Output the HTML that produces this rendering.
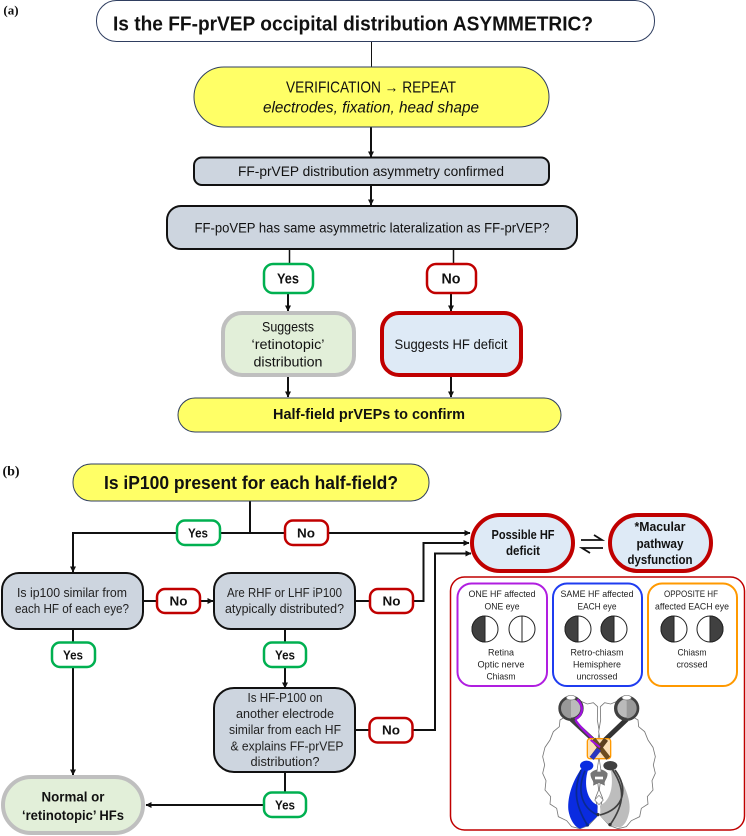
<!DOCTYPE html>
<html><head><meta charset="utf-8"><style>
html,body{margin:0;padding:0;background:#fff}
svg{display:block}
text{font-family:"Liberation Sans",sans-serif;fill:#111;text-anchor:middle;dominant-baseline:central}
.b{font-weight:bold}
.t{font-size:9.5px;fill:#222}
.m{font-size:12.5px;fill:#222}
.l{stroke:#111;stroke-width:2;fill:none}
.g{fill:#cdd5df;stroke:#111;stroke-width:2}
.y{fill:#ffff66;stroke:#2f3e60;stroke-width:1}
.ye{fill:#fff;stroke:#00b050;stroke-width:2.5}
.no{fill:#fff;stroke:#c00000;stroke-width:2.5}
.hf{fill:#deeaf6;stroke:#c00000;stroke-width:4}
.gr{fill:#e2efd9;stroke:#bfbfbf;stroke-width:4}
</style></head><body>
<svg width="746" height="836" viewBox="0 0 746 836" xmlns="http://www.w3.org/2000/svg">
<defs><marker id="a" markerWidth="7" markerHeight="7" refX="5.5" refY="3" orient="auto" markerUnits="userSpaceOnUse"><path d="M0,0L6,3L0,6Z" fill="#111"/></marker></defs>
<text x="11" y="10" class="b" style="font-family:'Liberation Serif',serif;font-size:13px">(a)</text>
<text x="11" y="472" class="b" style="font-family:'Liberation Serif',serif;font-size:14px">(b)</text>

<!-- connectors (a) -->
<path d="M371.500 41V67" stroke="#111" stroke-width="1" fill="none"/>
<path class="l" d="M371 127V157" marker-end="url(#a)"/>
<path class="l" d="M371 185V205" marker-end="url(#a)"/>
<path d="M289.500 249V263M453.500 249V263" stroke="#111" stroke-width="1.500" fill="none"/>
<path class="l" d="M288 293V311" marker-end="url(#a)"/>
<path class="l" d="M451 293V311" marker-end="url(#a)"/>
<path class="l" d="M288 377V397" marker-end="url(#a)"/>
<path class="l" d="M451 377V397" marker-end="url(#a)"/>

<!-- nodes (a) -->
<rect x="96.500" y="0.500" width="558" height="41" rx="20" fill="#fff" stroke="#2f3e60"/>
<text x="353" y="24" class="b" style="font-size:20.500px" textLength="480" lengthAdjust="spacingAndGlyphs">Is the FF-prVEP occipital distribution ASYMMETRIC?</text>
<rect x="194" y="67" width="355" height="60" rx="30" class="y"/>
<text x="371" y="88" style="font-size:15.500px" textLength="170" lengthAdjust="spacingAndGlyphs">VERIFICATION → REPEAT</text>
<text x="371" y="108" style="font-size:15.500px;font-style:italic" textLength="216" lengthAdjust="spacingAndGlyphs">electrodes, fixation, head shape</text>
<rect x="194" y="157.500" width="355" height="27.500" rx="8" class="g"/>
<text x="371" y="171.500" style="font-size:13.500px" textLength="266" lengthAdjust="spacingAndGlyphs">FF-prVEP distribution asymmetry confirmed</text>
<rect x="167" y="206" width="410" height="43" rx="14" class="g"/>
<text x="372" y="228" style="font-size:13.500px" textLength="355" lengthAdjust="spacingAndGlyphs">FF-poVEP has same asymmetric lateralization as FF-prVEP?</text>
<rect x="264" y="264" width="49" height="29" rx="9" class="ye"/>
<text x="288" y="279" class="b" style="font-size:15px" textLength="22" lengthAdjust="spacingAndGlyphs">Yes</text>
<rect x="427" y="264" width="49" height="29" rx="9" class="no"/>
<text x="451" y="279" class="b" style="font-size:15px" textLength="19" lengthAdjust="spacingAndGlyphs">No</text>
<rect x="223" y="313" width="131" height="62" rx="19" class="gr"/>
<text x="288" y="327" style="font-size:13.500px" textLength="52" lengthAdjust="spacingAndGlyphs">Suggests</text>
<text x="288" y="344.500" style="font-size:13.500px" textLength="73" lengthAdjust="spacingAndGlyphs">‘retinotopic’</text>
<text x="288" y="362" style="font-size:13.500px" textLength="69" lengthAdjust="spacingAndGlyphs">distribution</text>
<rect x="382" y="313" width="139" height="62" rx="17" class="hf"/>
<text x="451" y="344.500" style="font-size:13.500px" textLength="113" lengthAdjust="spacingAndGlyphs">Suggests HF deficit</text>
<rect x="178" y="398" width="383" height="34" rx="17" class="y"/>
<text x="369" y="415" class="b" style="font-size:14.500px" textLength="192" lengthAdjust="spacingAndGlyphs">Half-field prVEPs to confirm</text>

<!-- connectors (b) -->
<path class="l" d="M250 501V533"/>
<path class="l" d="M470 533H73V572" marker-end="url(#a)"/>
<path d="M445 533H470" class="l" marker-end="url(#a)"/>
<path class="l" d="M413 601H423.500V543H469" marker-end="url(#a)"/>
<path class="l" d="M413 730H435V553.500H471" marker-end="url(#a)"/>
<path class="l" d="M143 601H156M200 601H213" marker-end="url(#a)"/>
<path class="l" d="M355 601H370"/>
<path class="l" d="M355 730H369"/>
<path class="l" d="M73 629V642"/>
<path class="l" d="M73 667V775" marker-end="url(#a)"/>
<path class="l" d="M285 629V642"/>
<path class="l" d="M285 667V688" marker-end="url(#a)"/>
<path class="l" d="M285 772V792"/>
<path class="l" d="M263 805H146" marker-end="url(#a)"/>

<!-- nodes (b) -->
<rect x="73" y="464" width="356" height="37" rx="18" class="y"/>
<text x="251" y="483" class="b" style="font-size:18px" textLength="294" lengthAdjust="spacingAndGlyphs">Is iP100 present for each half-field?</text>
<rect x="177" y="520.500" width="43" height="24.500" rx="8" class="ye"/>
<text x="198" y="533" class="b" style="font-size:13px" textLength="20" lengthAdjust="spacingAndGlyphs">Yes</text>
<rect x="285" y="520.500" width="43" height="24.500" rx="8" class="no"/>
<text x="306" y="533" class="b" style="font-size:13px" textLength="18" lengthAdjust="spacingAndGlyphs">No</text>
<rect x="2" y="573" width="141" height="56" rx="17" class="g"/>
<text x="72" y="593" class="m" textLength="110" lengthAdjust="spacingAndGlyphs">Is ip100 similar from</text>
<text x="72" y="609" class="m" textLength="114" lengthAdjust="spacingAndGlyphs">each HF of each eye?</text>
<rect x="157" y="589" width="43" height="24" rx="8" class="no"/>
<text x="178.500" y="601" class="b" style="font-size:13px" textLength="18" lengthAdjust="spacingAndGlyphs">No</text>
<rect x="214" y="573" width="141" height="56" rx="17" class="g"/>
<text x="284.500" y="593" class="m" textLength="115" lengthAdjust="spacingAndGlyphs">Are RHF or LHF iP100</text>
<text x="284.500" y="609" class="m" textLength="119" lengthAdjust="spacingAndGlyphs">atypically distributed?</text>
<rect x="370" y="589" width="43" height="24" rx="8" class="no"/>
<text x="391.500" y="601" class="b" style="font-size:13px" textLength="18" lengthAdjust="spacingAndGlyphs">No</text>
<rect x="52" y="642.500" width="43" height="24.500" rx="8" class="ye"/>
<text x="73" y="655" class="b" style="font-size:13px" textLength="20" lengthAdjust="spacingAndGlyphs">Yes</text>
<rect x="264" y="642.500" width="42" height="24.500" rx="8" class="ye"/>
<text x="285" y="655" class="b" style="font-size:13px" textLength="20" lengthAdjust="spacingAndGlyphs">Yes</text>
<rect x="214" y="688" width="141" height="84" rx="20" class="g"/>
<text x="285" y="698" class="m" textLength="75" lengthAdjust="spacingAndGlyphs">Is HF-P100 on</text>
<text x="285" y="714" class="m" textLength="98" lengthAdjust="spacingAndGlyphs">another electrode</text>
<text x="285" y="730" class="m" textLength="112" lengthAdjust="spacingAndGlyphs">similar from each HF</text>
<text x="287" y="746.500" class="m" textLength="113" lengthAdjust="spacingAndGlyphs">&amp; explains FF-prVEP</text>
<text x="285" y="762" class="m" textLength="69" lengthAdjust="spacingAndGlyphs">distribution?</text>
<rect x="369.500" y="718" width="43" height="24.500" rx="8" class="no"/>
<text x="391" y="730" class="b" style="font-size:13px" textLength="18" lengthAdjust="spacingAndGlyphs">No</text>
<rect x="264" y="792.500" width="42" height="24.500" rx="8" class="ye"/>
<text x="285" y="805" class="b" style="font-size:13px" textLength="20" lengthAdjust="spacingAndGlyphs">Yes</text>
<rect x="3" y="777" width="140" height="56" rx="28" class="gr"/>
<text x="73" y="796.500" class="b" style="font-size:14px" textLength="63" lengthAdjust="spacingAndGlyphs">Normal or</text>
<text x="73" y="815" class="b" style="font-size:14px" textLength="102" lengthAdjust="spacingAndGlyphs">‘retinotopic’ HFs</text>

<rect x="472" y="515" width="101" height="56" rx="28" class="hf"/>
<text x="523" y="535" class="b" style="font-size:12.500px" textLength="63" lengthAdjust="spacingAndGlyphs">Possible HF</text>
<text x="523" y="551" class="b" style="font-size:12.500px" textLength="34" lengthAdjust="spacingAndGlyphs">deficit</text>
<rect x="610" y="515" width="101" height="56" rx="28" class="hf"/>
<text x="660" y="527" class="b" style="font-size:12.500px" textLength="51" lengthAdjust="spacingAndGlyphs">*Macular</text>
<text x="660" y="544" class="b" style="font-size:12.500px" textLength="47" lengthAdjust="spacingAndGlyphs">pathway</text>
<text x="660" y="560" class="b" style="font-size:12.500px" textLength="65" lengthAdjust="spacingAndGlyphs">dysfunction</text>
<path d="M581 540H602L594 535M603 548H582L590 553" fill="none" stroke="#111" stroke-width="1.800"/>

<rect x="450.500" y="577" width="294" height="253" rx="14" fill="#fff" stroke="#c00000" stroke-width="1.500"/>
<rect x="457.500" y="583.500" width="89.500" height="102.500" rx="14" fill="#fff" stroke="#b01ee0" stroke-width="2"/>
<rect x="553" y="583.500" width="89" height="102.500" rx="14" fill="#fff" stroke="#1f3cf0" stroke-width="2"/>
<rect x="648" y="583.500" width="89" height="102.500" rx="14" fill="#fff" stroke="#ff9900" stroke-width="2"/>
<text x="502" y="594.500" class="t" textLength="67" lengthAdjust="spacingAndGlyphs">ONE HF affected</text>
<text x="502" y="607" class="t" textLength="35" lengthAdjust="spacingAndGlyphs">ONE eye</text>
<text x="501" y="653" class="t" textLength="26" lengthAdjust="spacingAndGlyphs">Retina</text>
<text x="501" y="665" class="t" textLength="47" lengthAdjust="spacingAndGlyphs">Optic nerve</text>
<text x="501" y="677" class="t" textLength="29" lengthAdjust="spacingAndGlyphs">Chiasm</text>
<text x="597" y="594.500" class="t" textLength="73" lengthAdjust="spacingAndGlyphs">SAME HF affected</text>
<text x="597" y="607" class="t" textLength="39" lengthAdjust="spacingAndGlyphs">EACH eye</text>
<text x="597" y="653" class="t" textLength="53" lengthAdjust="spacingAndGlyphs">Retro-chiasm</text>
<text x="597" y="665" class="t" textLength="48" lengthAdjust="spacingAndGlyphs">Hemisphere</text>
<text x="597" y="677" class="t" textLength="41" lengthAdjust="spacingAndGlyphs">uncrossed</text>
<text x="691" y="594.500" class="t" textLength="54" lengthAdjust="spacingAndGlyphs">OPPOSITE HF</text>
<text x="692" y="607" class="t" textLength="74" lengthAdjust="spacingAndGlyphs">affected EACH eye</text>
<text x="692" y="653" class="t" textLength="29" lengthAdjust="spacingAndGlyphs">Chiasm</text>
<text x="692" y="665" class="t" textLength="31" lengthAdjust="spacingAndGlyphs">crossed</text>

<!-- visual field circles -->
<g stroke="#222" stroke-width="1">
<circle cx="485" cy="629" r="13" fill="#fff"/><path d="M485 616A13 13 0 0 0 485 642Z" fill="#404040"/>
<circle cx="522" cy="629" r="13" fill="#fff"/><path d="M522 616V642"/>
<circle cx="578" cy="629" r="13" fill="#fff"/><path d="M578 616A13 13 0 0 0 578 642Z" fill="#404040"/>
<circle cx="614" cy="629" r="13" fill="#fff"/><path d="M614 616A13 13 0 0 0 614 642Z" fill="#404040"/>
<circle cx="674" cy="629" r="13" fill="#fff"/><path d="M674 616A13 13 0 0 0 674 642Z" fill="#404040"/>
<circle cx="710" cy="629" r="13" fill="#fff"/><path d="M710 616A13 13 0 0 1 710 642Z" fill="#404040"/>
</g>

<!-- brain -->
<g transform="translate(500,660) scale(0.33333)">
<path d="M293 140L280 128L262 132L245 125L232 145L205 165L180 180L178 200L160 215L150 240L135 262L128 290L134 315L128 340L138 362L135 390L152 410L150 432L170 445L175 470L200 482L215 500L240 506L265 497L290 470L292 440L286 415L296 390L290 340L296 300L290 260L298 215L292 180Z" fill="#fff" stroke="#777" stroke-width="2.500"/>
<path d="M301 140L314 128L332 132L349 125L362 145L389 165L414 180L416 200L434 215L444 240L459 262L466 290L460 315L466 340L456 362L459 390L442 410L444 432L424 445L419 470L394 482L379 500L354 506L329 497L304 470L302 440L308 415L298 390L304 340L298 300L304 260L296 215L302 180Z" fill="#fff" stroke="#777" stroke-width="2.500"/>
<!-- fans -->
<path d="M245 325C215 365 200 420 206 455C212 485 228 503 240 506L262 497L293 468L292 435C262 422 250 375 264 330Z" fill="#0a2be0"/>
<path d="M340 325C372 365 394 420 388 455C382 485 370 500 358 503L330 497L300 468L302 435C332 422 342 375 332 330Z" fill="#bdbdbd"/>
<path d="M243 330C222 385 222 430 262 495M255 332C232 385 240 440 292 465" fill="none" stroke="#0a2a90" stroke-width="5"/>
<path d="M338 330C375 385 375 430 330 495M345 330C385 385 375 445 300 465" fill="none" stroke="#404040" stroke-width="5"/>
<circle cx="330" cy="494" r="5" fill="#333"/><circle cx="262" cy="495" r="5" fill="#0a2a90"/><circle cx="294" cy="464" r="5" fill="#333"/>
<!-- midbrain -->
<path d="M272 340C285 325 310 325 322 340C322 360 310 360 314 376L297 368L280 376C284 360 272 360 272 340Z" fill="#777" stroke="#555"/>
<path d="M285 350H309V358H285Z" fill="#fff"/>
<path d="M297 406L310 420L297 434L284 420Z" fill="#fff" stroke="#777" stroke-width="2"/>
<path d="M297 300L292 335H302Z" fill="#fff"/>
<ellipse cx="260" cy="317" rx="20" ry="15" fill="#0a2be0"/>
<ellipse cx="331" cy="317" rx="21" ry="14" fill="#404040"/>
<!-- optic nerves -->
<path d="M213 178L280 240" stroke="#404040" stroke-width="13" fill="none"/>
<path d="M380 178L315 240" stroke="#333" stroke-width="15" fill="none"/>
<path d="M232 118C252 140 250 165 225 178C240 205 270 225 298 258" stroke="#a010e0" stroke-width="7" fill="none"/>
<!-- eyes -->
<circle cx="213" cy="145" r="33" fill="#bbb" stroke="#404040" stroke-width="10"/>
<path d="M213 115A30 30 0 0 0 213 175Z" fill="#999"/>
<ellipse cx="213" cy="113" rx="14" ry="7" fill="#fff" stroke="#777" stroke-width="2"/>
<circle cx="380" cy="145" r="33" fill="#bbb" stroke="#404040" stroke-width="10"/>
<path d="M380 115A30 30 0 0 1 380 175Z" fill="#999"/>
<ellipse cx="380" cy="113" rx="14" ry="7" fill="#fff" stroke="#777" stroke-width="2"/>
<path d="M232 118C252 140 250 165 225 178" stroke="#a010e0" stroke-width="7" fill="none"/>
<!-- chiasm -->
<rect x="262" y="236" width="70" height="60" rx="8" fill="#fbe0b8" stroke="#ff9900" stroke-width="4"/>
<path d="M280 238L325 295" stroke="#6b4c20" stroke-width="15"/>
<path d="M318 238L275 295" stroke="#5a4020" stroke-width="15"/>
<path d="M297 268L275 295" stroke="#2a35c0" stroke-width="15"/>
<path d="M272 240L300 262" stroke="#a010e0" stroke-width="6"/>
</g>
</svg>
</body></html>
